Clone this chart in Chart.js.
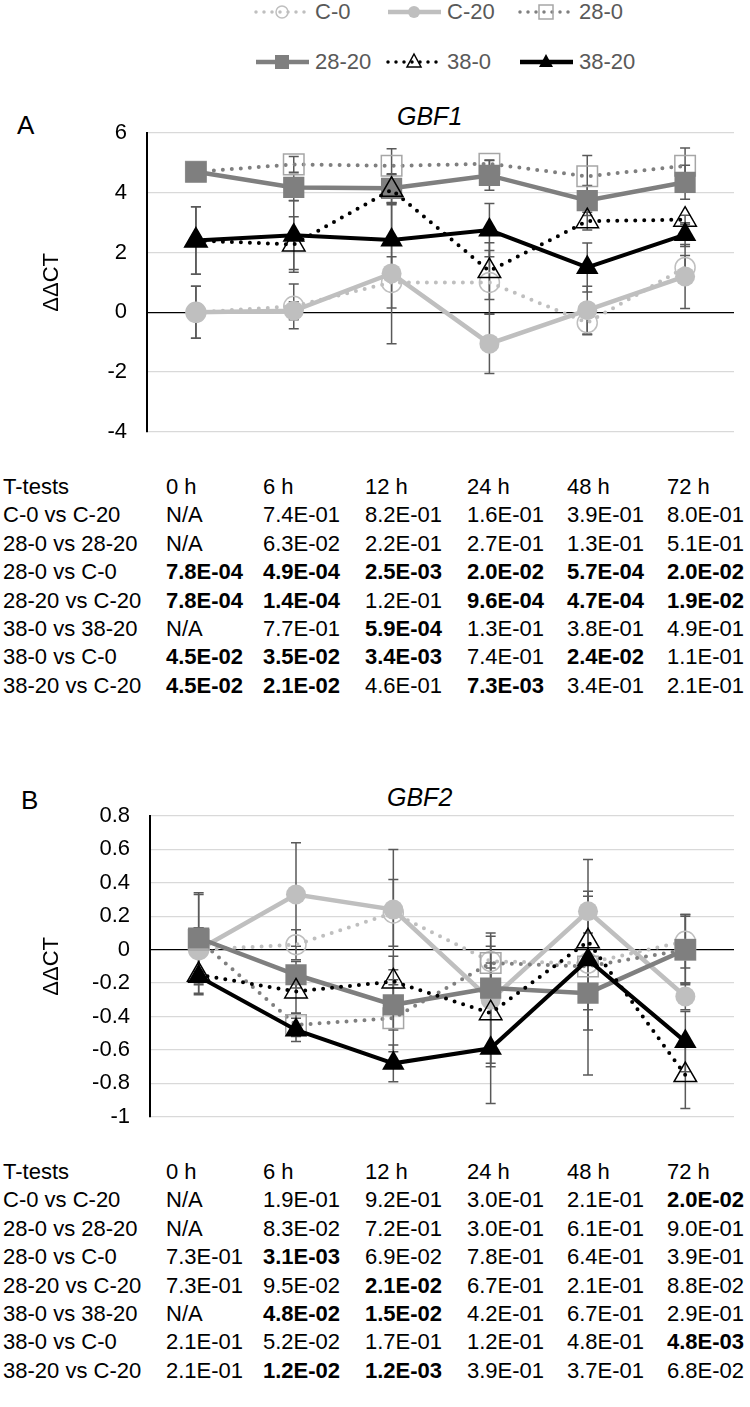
<!DOCTYPE html>
<html lang="en">
<head>
<meta charset="UTF-8">
<title>GBF1 / GBF2 ΔΔCT</title>
<script src="https://cdn.jsdelivr.net/npm/chart.js"></script>
<style>
  body { margin: 0; width: 750px; height: 1407px; position: relative; background: #fff; overflow: hidden;
         font-family: "Liberation Sans", Arial, sans-serif; }
  .panel { position: absolute; font-size: 26px; line-height: 26px; color: #000; }
  .gene { position: absolute; font-size: 25px; line-height: 25px; font-style: italic; color: #000; }
  .wrap { position: absolute; left: 0; width: 750px; }
  .leg { position: absolute; height: 24px; display: flex; align-items: center; color: #595959; font-size: 22px; }
  .leg span { position: absolute; left: 62px; top: 0; line-height: 24px; white-space: nowrap; }
  .cell { position: absolute; white-space: nowrap; font-size: 22px; line-height: 28px; color: #000; }
</style>
</head>
<body>

<div id="legend"></div>

<div class="panel" style="left:17px; top:112px;">A</div>
<div class="gene" style="left:397px; top:104px;">GBF1</div>
<div class="wrap" style="top:95px; height:370px;"><canvas id="chartA" width="750" height="370"></canvas></div>
<div id="tableA"></div>

<div class="panel" style="left:21px; top:787px;">B</div>
<div class="gene" style="left:387px; top:785px;">GBF2</div>
<div class="wrap" style="top:775px; height:375px;"><canvas id="chartB" width="750" height="375"></canvas></div>
<div id="tableB"></div>

<script>
// time points and series names
const hours = ['0 h', '6 h', '12 h', '24 h', '48 h', '72 h'];
const seriesNames = ['C-0', 'C-20', '28-0', '28-20', '38-0', '38-20'];

// GBF1 ddCT means
const c0A    = [0, 0.2, 1.0, 1.0, -0.35, 1.5];
const c20A   = [0, 0.05, 1.3, -1.05, 0.07, 1.2];
const t280A  = [4.7, 4.95, 4.9, 4.97, 4.55, 4.9];
const t2820A = [4.7, 4.18, 4.15, 4.58, 3.74, 4.35];
const t380A  = [2.4, 2.27, 4.1, 1.38, 3.05, 3.1];
const t3820A = [2.4, 2.58, 2.42, 2.75, 1.5, 2.6];
// GBF1 error bars (+/-)
const c0ErrA    = [0.87, 0.75, 0.86, 1.07, 0.4, 0.4];
const c20ErrA   = [0.87, 0.3, 2.35, 1.0, 0.8, 1.07];
const t280ErrA  = [0.1, 0.26, 0.57, 0.13, 0.7, 0.6];
const t2820ErrA = [0.1, 0.44, 0.49, 0.5, 0.5, 0.57];
const t380ErrA  = [1.13, 0.93, 0.5, 0.95, 0.3, 0.15];
const t3820ErrA = [1.13, 1.15, 1.25, 0.89, 0.82, 0.4];

// GBF2 ddCT means
const c0B    = [0, 0.03, 0.22, -0.07, -0.08, 0.05];
const c20B   = [0, 0.33, 0.24, -0.3, 0.23, -0.28];
const t280B  = [0.06, -0.45, -0.41, -0.08, -0.1, 0.0];
const t2820B = [0.07, -0.15, -0.33, -0.23, -0.26, 0.0];
const t380B  = [-0.15, -0.25, -0.19, -0.38, 0.05, -0.75];
const t3820B = [-0.16, -0.48, -0.68, -0.59, -0.06, -0.55];
// GBF2 error bars (+/-)
const c0ErrB    = [0.13, 0.09, 0.2, 0.15, 0.4, 0.16];
const c20ErrB   = [0.13, 0.31, 0.36, 0.4, 0.31, 0.08];
const t280ErrB  = [0.27, 0.07, 0.2, 0.1, 0.2, 0.2];
const t2820ErrB = [0.27, 0.08, 0.15, 0.12, 0.49, 0.21];
const t380ErrB  = [0.11, 0.13, 0.15, 0.3, 0.3, 0.2];
const t3820ErrB = [0.11, 0.07, 0.11, 0.33, 0.3, 0.18];

// t-test table
const tRowLabels = ['C-0 vs C-20', '28-0 vs 28-20', '28-0 vs C-0', '28-20 vs C-20', '38-0 vs 38-20', '38-0 vs C-0', '38-20 vs C-20'];
const pValuesA = [
    ['N/A', '7.4E-01', '8.2E-01', '1.6E-01', '3.9E-01', '8.0E-01'],
    ['N/A', '6.3E-02', '2.2E-01', '2.7E-01', '1.3E-01', '5.1E-01'],
    ['7.8E-04', '4.9E-04', '2.5E-03', '2.0E-02', '5.7E-04', '2.0E-02'],
    ['7.8E-04', '1.4E-04', '1.2E-01', '9.6E-04', '4.7E-04', '1.9E-02'],
    ['N/A', '7.7E-01', '5.9E-04', '1.3E-01', '3.8E-01', '4.9E-01'],
    ['4.5E-02', '3.5E-02', '3.4E-03', '7.4E-01', '2.4E-02', '1.1E-01'],
    ['4.5E-02', '2.1E-02', '4.6E-01', '7.3E-03', '3.4E-01', '2.1E-01']
];
const pValuesB = [
    ['N/A', '1.9E-01', '9.2E-01', '3.0E-01', '2.1E-01', '2.0E-02'],
    ['N/A', '8.3E-02', '7.2E-01', '3.0E-01', '6.1E-01', '9.0E-01'],
    ['7.3E-01', '3.1E-03', '6.9E-02', '7.8E-01', '6.4E-01', '3.9E-01'],
    ['7.3E-01', '9.5E-02', '2.1E-02', '6.7E-01', '2.1E-01', '8.8E-02'],
    ['N/A', '4.8E-02', '1.5E-02', '4.2E-01', '6.7E-01', '2.9E-01'],
    ['2.1E-01', '5.2E-02', '1.7E-01', '1.2E-01', '4.8E-01', '4.8E-03'],
    ['2.1E-01', '1.2E-02', '1.2E-03', '3.9E-01', '3.7E-01', '6.8E-02']
];

const FONT = '"Liberation Sans", Arial, sans-serif';
Chart.defaults.font.family = FONT;

// look of each series (Excel style)
const styles = [
    { line: '#bfbfbf', dotted: true,  shape: 'circle',   fill: false, mark: '#bfbfbf', r: 10 },
    { line: '#bfbfbf', dotted: false, shape: 'circle',   fill: true,  mark: '#bfbfbf', r: 10 },
    { line: '#7f7f7f', dotted: true,  shape: 'rect',     fill: false, mark: '#a6a6a6', r: 14.5 },
    { line: '#7f7f7f', dotted: false, shape: 'rect',     fill: true,  mark: '#7f7f7f', r: 15 },
    { line: '#000000', dotted: true,  shape: 'triangle', fill: false, mark: '#000000', r: 13 },
    { line: '#000000', dotted: false, shape: 'triangle', fill: true,  mark: '#000000', r: 13 }
];

function makeDatasets(values, errors) {
    return values.map((vals, i) => {
        const s = styles[i];
        return {
            label: seriesNames[i],
            data: vals,
            errors: errors[i],
            order: 6 - i,
            borderColor: s.line,
            borderWidth: s.dotted ? 4 : (s.line === '#000000' ? 4 : 4.5),
            borderDash: s.dotted ? [0, 9] : [],
            borderCapStyle: s.dotted ? 'round' : 'butt',
            tension: 0,
            pointStyle: s.shape,
            pointRadius: s.r,
            pointBorderWidth: s.fill ? 0 : 1.5,
            pointBorderColor: s.mark,
            pointBackgroundColor: s.fill ? s.mark : 'rgba(0,0,0,0)'
        };
    });
}

// error bars drawn from each dataset's errors array
const errorBars = {
    id: 'errorBars',
    beforeDatasetsDraw(chart) {
        const ctx = chart.ctx, ys = chart.scales.y;
        ctx.save();
        ctx.strokeStyle = '#595959';
        ctx.lineWidth = 1.5;
        chart.data.datasets.forEach((ds, i) => {
            const meta = chart.getDatasetMeta(i);
            meta.data.forEach((pt, j) => {
                const v = ds.data[j], e = ds.errors[j];
                const top = ys.getPixelForValue(v + e), bot = ys.getPixelForValue(v - e);
                ctx.beginPath();
                ctx.moveTo(pt.x, top); ctx.lineTo(pt.x, bot);
                ctx.moveTo(pt.x - 5, top); ctx.lineTo(pt.x + 5, top);
                ctx.moveTo(pt.x - 5, bot); ctx.lineTo(pt.x + 5, bot);
                ctx.stroke();
            });
        });
        ctx.restore();
    }
};

function makeChart(id, values, errors, yMin, yMax, step, axisLeft, padTop, padBottom) {
    return new Chart(document.getElementById(id), {
        type: 'line',
        data: { labels: hours, datasets: makeDatasets(values, errors) },
        options: {
            responsive: false,
            animation: false,
            layout: { padding: { top: padTop, bottom: padBottom, left: 0, right: 7 } },
            plugins: { legend: { display: false }, tooltip: { enabled: false } },
            scales: {
                x: { type: 'category', offset: true, display: false },
                y: {
                    min: yMin, max: yMax,
                    afterFit: scale => { scale.width = axisLeft; },
                    border: { display: true, color: '#000', width: 2 },
                    grid: {
                        drawTicks: false,
                        lineWidth: 1.3,
                        color: c => (c.tick && Math.abs(c.tick.value) < 1e-9) ? '#000' : '#d9d9d9'
                    },
                    ticks: {
                        stepSize: step,
                        padding: 20,
                        color: '#000',
                        font: { size: 22 },
                        callback: v => String(parseFloat(Number(v).toFixed(1)) || 0)
                    },
                    title: {
                        display: true,
                        text: 'ΔΔCT',
                        color: '#000',
                        font: { size: 22 },
                        padding: { top: 39, bottom: 0 }
                    }
                }
            }
        },
        plugins: [errorBars]
    });
}

makeChart('chartA',
    [c0A, c20A, t280A, t2820A, t380A, t3820A],
    [c0ErrA, c20ErrA, t280ErrA, t2820ErrA, t380ErrA, t3820ErrA],
    -4, 6, 2, 147, 38, 14);

makeChart('chartB',
    [c0B, c20B, t280B, t2820B, t380B, t3820B],
    [c0ErrB, c20ErrB, t280ErrB, t2820ErrB, t380ErrB, t3820ErrB],
    -1, 0.8, 0.2, 150, 41, 12);

// legend with line samples
function drawMarker(ctx, s, x, y) {
    ctx.beginPath();
    if (s.shape === 'circle') {
        ctx.arc(x, y, 6, 0, Math.PI * 2);
    } else if (s.shape === 'rect') {
        ctx.rect(x - 7, y - 7, 14, 14);
    } else {
        ctx.moveTo(x, y - 8);
        ctx.lineTo(x + 7, y + 5);
        ctx.lineTo(x - 7, y + 5);
        ctx.closePath();
    }
    if (s.fill) { ctx.fillStyle = s.mark; ctx.fill(); }
    else { ctx.strokeStyle = s.mark; ctx.lineWidth = 1.5; ctx.stroke(); }
}

const legendX = [253, 385, 517];
const legendY = [12, 62];
const legend = document.getElementById('legend');
seriesNames.forEach((name, i) => {
    const s = styles[i];
    const item = document.createElement('div');
    item.className = 'leg';
    item.style.left = legendX[i % 3] + 'px';
    item.style.top = (legendY[Math.floor(i / 3)] - 12) + 'px';
    const cv = document.createElement('canvas');
    cv.width = 58; cv.height = 24;
    item.appendChild(cv);
    const sp = document.createElement('span');
    sp.textContent = name;
    item.appendChild(sp);
    legend.appendChild(item);

    const ctx = cv.getContext('2d');
    ctx.strokeStyle = s.line;
    if (s.dotted) {
        ctx.lineWidth = 3.5; ctx.lineCap = 'round'; ctx.setLineDash([0, 8]);
    } else {
        ctx.lineWidth = 4.5;
    }
    ctx.beginPath(); ctx.moveTo(3, 12); ctx.lineTo(56, 12); ctx.stroke();
    ctx.setLineDash([]);
    drawMarker(ctx, s, 29, 12);
});

// t-test tables, bold when p < 0.05
const colX = [166, 263, 365, 467, 567, 667];
function addCell(parent, text, x, yc, bold) {
    const d = document.createElement('div');
    d.className = 'cell';
    d.style.left = x + 'px';
    d.style.top = (yc - 14) + 'px';
    if (bold) d.style.fontWeight = 'bold';
    d.textContent = text;
    parent.appendChild(d);
}
function buildTable(id, top, rows) {
    const el = document.getElementById(id);
    const step = 28.4;
    addCell(el, 'T-tests', 3, top, false);
    hours.forEach((h, j) => addCell(el, h, colX[j], top, false));
    rows.forEach((row, r) => {
        const yc = top + (r + 1) * step;
        addCell(el, tRowLabels[r], 3, yc, false);
        row.forEach((p, j) => {
            const num = parseFloat(p);
            addCell(el, p, colX[j], yc, !isNaN(num) && num < 0.05);
        });
    });
}
buildTable('tableA', 487, pValuesA);
buildTable('tableB', 1172, pValuesB);
</script>
</body>
</html>
